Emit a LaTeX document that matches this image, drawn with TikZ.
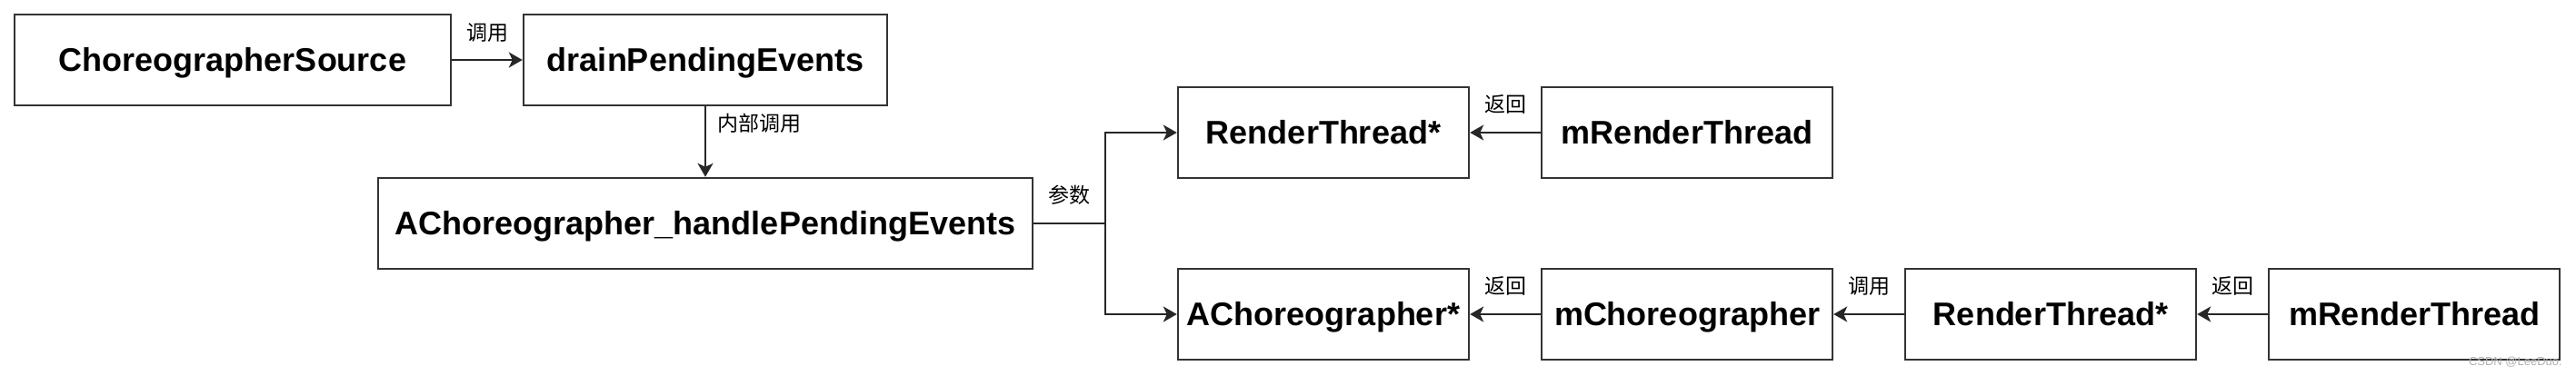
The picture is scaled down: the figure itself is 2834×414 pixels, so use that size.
\documentclass[tikz,border=0pt]{standalone}
\usepackage{fontspec}
\setmainfont{Liberation Sans}
\newfontfamily\cjk{Noto Sans CJK SC}
\usetikzlibrary{arrows.meta}
\begin{document}
\begin{tikzpicture}[x=1pt,y=-1pt,
  box/.style={draw=black!80, line width=2.4pt, minimum height=100pt, inner sep=0pt, text height=25pt, text depth=0pt, font=\bfseries\fontsize{36}{40}\selectfont},
  conn/.style={draw=black!85, line width=2pt},
  arr/.style={conn, -{Stealth[length=15pt,width=17pt,inset=4pt]}},
  lbl/.style={font=\cjk\fontsize{23}{26}\selectfont, inner sep=0pt}]
\useasboundingbox[fill=white] (0,0) rectangle (2834,414);

\node[box, minimum width=480pt] (cs) at (256,66) {ChoreographerSource};
\node[box, minimum width=400pt] (dp) at (776,66) {drainPendingEvents};
\node[box, minimum width=720pt] (hp) at (776,246) {AChoreographer\_handlePendingEvents};
\node[box, minimum width=320pt] (rt1) at (1456,146) {RenderThread*};
\node[box, minimum width=320pt] (mrt1) at (1856,146) {mRenderThread};
\node[box, minimum width=320pt] (ac) at (1456,346) {AChoreographer*};
\node[box, minimum width=320pt] (mc) at (1856,346) {mChoreographer};
\node[box, minimum width=320pt] (rt2) at (2256,346) {RenderThread*};
\node[box, minimum width=320pt] (mrt2) at (2656,346) {mRenderThread};
\coordinate (j) at (1216,246);

\draw[arr] (cs) -- node[lbl, midway, yshift=30pt] (l1) {调用} (dp);
\draw[arr] (dp) -- node[lbl, midway, anchor=west, xshift=12pt, yshift=20pt] (l2) {内部调用} (hp);
\draw[conn] (hp.east) -- node[lbl, midway, yshift=31pt] (l3) {参数} (j);
\draw[arr] (j) |- (rt1.west);
\draw[arr] (j) |- (ac.west);
\draw[arr] (mrt1) -- node[lbl, midway, yshift=31pt] (l4) {返回} (rt1);
\draw[arr] (mc) -- node[lbl, midway, yshift=31pt] (l5) {返回} (ac);
\draw[arr] (rt2) -- node[lbl, midway, yshift=31pt] (l6) {调用} (mc);
\draw[arr] (mrt2) -- node[lbl, midway, yshift=31pt] (l7) {返回} (rt2);

\node[anchor=south east, inner sep=0pt, text=black!30, font=\fontsize{13}{14}\selectfont] (wm) at (2819,404) {CSDN @LeeDuo.};
\end{tikzpicture}
\end{document}
